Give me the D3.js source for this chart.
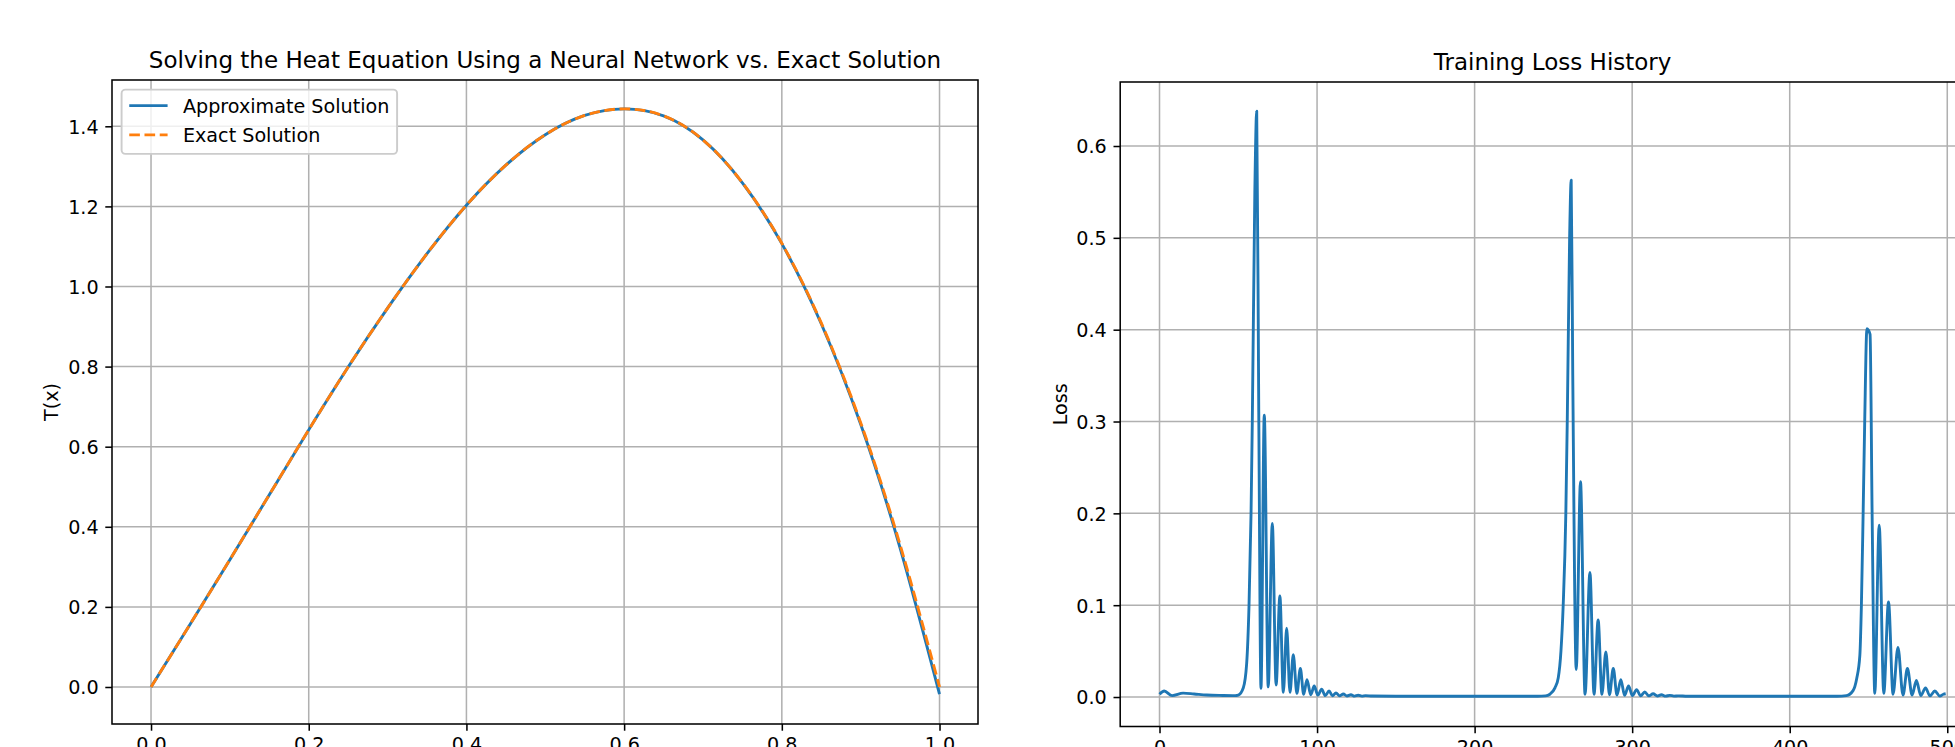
<!DOCTYPE html>
<html><head><meta charset="utf-8">
<script src="https://cdn.jsdelivr.net/npm/d3@7"></script>
<style>
html,body{margin:0;padding:0;background:#fff;}
svg{display:block;}
text{font-family:"DejaVu Sans",sans-serif;fill:#000;}
</style>
</head><body>
<svg id="chart" width="1955" height="747"></svg>
<script>
// ---------- data: left panel ----------
const heatX    = [0,0.05,0.1,0.15,0.2,0.25,0.3,0.35,0.4,0.45,0.5,0.55,0.6,0.65,0.7,0.75,0.8,0.85,0.9,0.95,1.0];
const exactT   = [0,0.158,0.318,0.480,0.642,0.799,0.946,1.082,1.203,1.303,1.379,1.427,1.4435,1.426,1.366,1.259,1.108,0.909,0.660,0.355,0.0];
const approxT  = [0,0.158,0.318,0.480,0.642,0.799,0.946,1.082,1.203,1.303,1.379,1.427,1.4435,1.426,1.366,1.259,1.107,0.907,0.656,0.347,-0.018];
const heatXTicks = [0,0.2,0.4,0.6,0.8,1.0];
const heatYTicks = [0,0.2,0.4,0.6,0.8,1.0,1.2,1.4];
const heatLegend = ["Approximate Solution","Exact Solution"];
const heatTitle = "Solving the Heat Equation Using a Neural Network vs. Exact Solution";
const heatYLabel = "T(x)";

// ---------- data: right panel ----------
const lossEpochs = [0,3,8,15,22,30,40,48,50,53.2,55.3,56.8,58.1,58.9,60.5,61.7,63.0,64.4,
  66.5,69.0,71.6,74.0,76.4,78.6,80.7,82.8,84.9,87.2,89.4,91.5,93.6,96.0,98.2,100.5,102.9,105.2,107.6,109.8,112.0,114.3,116.7,119.0,121.5,123.8,126.1,128.4,130.8,135,150,200,240,245,
  247.8,251,253.1,254.8,256.2,257.9,258.8,260.3,261.3,262.3,264.5,267.2,270.1,273.2,275.8,278.4,280.8,283.3,285.6,288.0,290.4,292.8,295.2,297.7,300.2,302.8,305.4,308.0,310.6,313.3,316.0,318.6,321.2,323.9,326.5,329.2,335,380,430,436,
  440.2,442.5,444.5,445.5,446.6,447.6,449.0,451.0,452.3,454.0,456.8,459.7,462.7,465.6,468.7,471.9,474.7,477.7,480.4,483.2,486.2,489.0,492.1,495.3,497.5,499];
const lossValues = [0.003,0.0065,0.0015,0.0042,0.0033,0.0022,0.0017,0.0015,0.002,0.01,0.036,0.099,0.2,0.3,0.55,0.638,0.31,0.0095,
  0.307,0.011,0.189,0.013,0.110,0.005,0.075,0.005,0.046,0.004,0.031,0.003,0.019,0.0025,0.012,0.002,0.0085,0.0015,0.0065,0.0013,0.0045,0.0012,0.0033,0.0011,0.0025,0.001,0.0019,0.001,0.0015,0.0011,0.0009,0.0008,0.0008,0.0012,
  0.003,0.01,0.021,0.05,0.099,0.2,0.3,0.5,0.5627,0.35,0.03,0.2345,0.003,0.1356,0.003,0.084,0.003,0.049,0.0025,0.031,0.002,0.019,0.0018,0.012,0.0015,0.008,0.0013,0.0055,0.0012,0.0036,0.0011,0.0025,0.001,0.0018,0.001,0.0013,0.0009,0.0008,0.0008,0.0015,
  0.007,0.02,0.045,0.1,0.2,0.3,0.401,0.395,0.2,0.004,0.187,0.004,0.1035,0.003,0.054,0.002,0.031,0.002,0.018,0.0015,0.010,0.0012,0.0065,0.001,0.003,0.0036];
const lossXTicks = [0,100,200,300,400,500];
const lossYTicks = [0,0.1,0.2,0.3,0.4,0.5,0.6];
const lossTitle = "Training Loss History";
const lossYLabel = "Loss";

// ---------- style constants ----------
const PT = 1.917;
const FS = 10*PT, TFS = 12*PT;
const LW = 1.5*PT, GW = 0.8*PT, SW = 0.8*PT;
const TICK = 3.5*PT, PAD = 3.5*PT;
const BLUE = "#1f77b4", ORANGE = "#ff7f0e", GRID = "#b0b0b0";

const svg = d3.select("#chart");
svg.append("rect").attr("width",1955).attr("height",747).attr("fill","#fff");

function panel(opt){
  const {L,R,T,B,xDom,yDom,xTicks,yTicks,xFmt,yFmt,title,ylabel,id} = opt;
  const x = d3.scaleLinear().domain(xDom).range([L,R]);
  const y = d3.scaleLinear().domain(yDom).range([B,T]);
  const g = svg.append("g");
  g.append("defs").append("clipPath").attr("id",id).append("rect")
    .attr("x",L).attr("y",T).attr("width",R-L).attr("height",B-T);
  const grid = g.append("g");
  grid.selectAll("line.gx").data(xTicks).join("line").attr("class","gx")
    .attr("x1",d=>x(d)).attr("x2",d=>x(d)).attr("y1",T).attr("y2",B)
    .attr("stroke",GRID).attr("stroke-width",GW);
  grid.selectAll("line.gy").data(yTicks).join("line").attr("class","gy")
    .attr("x1",L).attr("x2",R).attr("y1",d=>y(d)).attr("y2",d=>y(d))
    .attr("stroke",GRID).attr("stroke-width",GW);
  const plot = g.append("g").attr("clip-path",`url(#${id})`);
  const ax = g.append("g").attr("transform",`translate(0,${B})`)
    .call(d3.axisBottom(x).tickValues(xTicks).tickFormat(xFmt).tickSize(TICK).tickPadding(PAD));
  const ay = g.append("g").attr("transform",`translate(${L},0)`)
    .call(d3.axisLeft(y).tickValues(yTicks).tickFormat(yFmt).tickSize(TICK).tickPadding(PAD));
  [ax,ay].forEach(a=>{
    a.select(".domain").remove();
    a.selectAll(".tick line").attr("stroke","#000").attr("stroke-width",SW);
    a.selectAll(".tick text").attr("font-family","DejaVu Sans").attr("font-size",FS).attr("fill","#000");
  });
  ay.selectAll(".tick text").attr("dy","0.36em");
  g.append("text").attr("x",(L+R)/2).attr("y",T-6*PT).attr("text-anchor","middle")
    .attr("font-size",TFS).text(title);
  const labX = L - TICK - PAD - 30.5 - 4*PT - 0.1*FS;
  g.append("text").attr("transform",`translate(${labX},${(T+B)/2}) rotate(-90)`)
    .attr("text-anchor","middle").attr("font-size",FS).text(ylabel);
  return {x,y,g,plot,L,R,T,B};
}

// ---------- left panel ----------
const P1 = panel({L:112,R:978,T:80,B:724,xDom:[-0.0495,1.0488],yDom:[-0.0924,1.5156],
  xTicks:heatXTicks,yTicks:heatYTicks,xFmt:d3.format(".1f"),yFmt:d3.format(".1f"),
  title:heatTitle,ylabel:heatYLabel,id:"clip1"});
const line1 = d3.line().x(d=>P1.x(d[0])).y(d=>P1.y(d[1])).curve(d3.curveNatural);
P1.plot.append("path").datum(heatX.map((v,i)=>[v,approxT[i]]))
  .attr("d",line1).attr("fill","none").attr("stroke",BLUE).attr("stroke-width",LW);
P1.plot.append("path").datum(heatX.map((v,i)=>[v,exactT[i]]))
  .attr("d",line1).attr("fill","none").attr("stroke",ORANGE).attr("stroke-width",LW)
  .attr("stroke-dasharray",`${3.7*LW},${1.6*LW}`);
P1.g.append("rect").attr("x",P1.L).attr("y",P1.T).attr("width",P1.R-P1.L).attr("height",P1.B-P1.T)
  .attr("fill","none").attr("stroke","#000").attr("stroke-width",SW);

// legend
(function(){
  const lx = P1.L + 0.5*FS, ly = P1.T + 0.5*FS;
  const bp = 0.4*FS, hl = 2*FS, htp = 0.8*FS, rowH = 19.7, ls = 0.5*FS;
  const lg = P1.g.append("g");
  const tmp = lg.append("text").attr("font-size",FS).text(heatLegend[0]);
  const tw = tmp.node().getComputedTextLength(); tmp.remove();
  const w = bp + hl + htp + tw + bp, h = 2*bp + 2*rowH + ls;
  lg.append("rect").attr("x",lx).attr("y",ly).attr("width",w).attr("height",h)
    .attr("rx",0.2*FS).attr("fill","#fff").attr("fill-opacity",0.8)
    .attr("stroke","#cccccc").attr("stroke-width",1*PT);
  const styles = [{c:BLUE,d:null},{c:ORANGE,d:`${3.7*LW},${1.6*LW}`}];
  heatLegend.forEach((t,i)=>{
    const cy = ly + bp + rowH/2 + i*(rowH+ls) - 1.5;
    const ln = lg.append("line").attr("x1",lx+bp).attr("x2",lx+bp+hl).attr("y1",cy).attr("y2",cy)
      .attr("stroke",styles[i].c).attr("stroke-width",LW);
    if(styles[i].d) ln.attr("stroke-dasharray",styles[i].d);
    lg.append("text").attr("x",lx+bp+hl+htp).attr("y",cy).attr("dy","0.36em")
      .attr("font-size",FS).text(t);
  });
})();

// ---------- right panel ----------
const P2 = panel({L:1120.2,R:1985,T:82,B:726.5,xDom:[-24.95,523.95],yDom:[-0.0321,0.6697],
  xTicks:lossXTicks,yTicks:lossYTicks,xFmt:d3.format("d"),yFmt:d3.format(".1f"),
  title:lossTitle,ylabel:lossYLabel,id:"clip2"});
const line2 = d3.line().x(d=>P2.x(d[0])).y(d=>P2.y(d[1])).curve(d3.curveMonotoneX);
P2.plot.append("path").datum(lossEpochs.map((e,i)=>[e,lossValues[i]]))
  .attr("d",line2).attr("fill","none").attr("stroke",BLUE).attr("stroke-width",LW)
  .attr("stroke-linejoin","round");
P2.g.append("rect").attr("x",P2.L).attr("y",P2.T).attr("width",P2.R-P2.L).attr("height",P2.B-P2.T)
  .attr("fill","none").attr("stroke","#000").attr("stroke-width",SW);
</script>
</body></html>
